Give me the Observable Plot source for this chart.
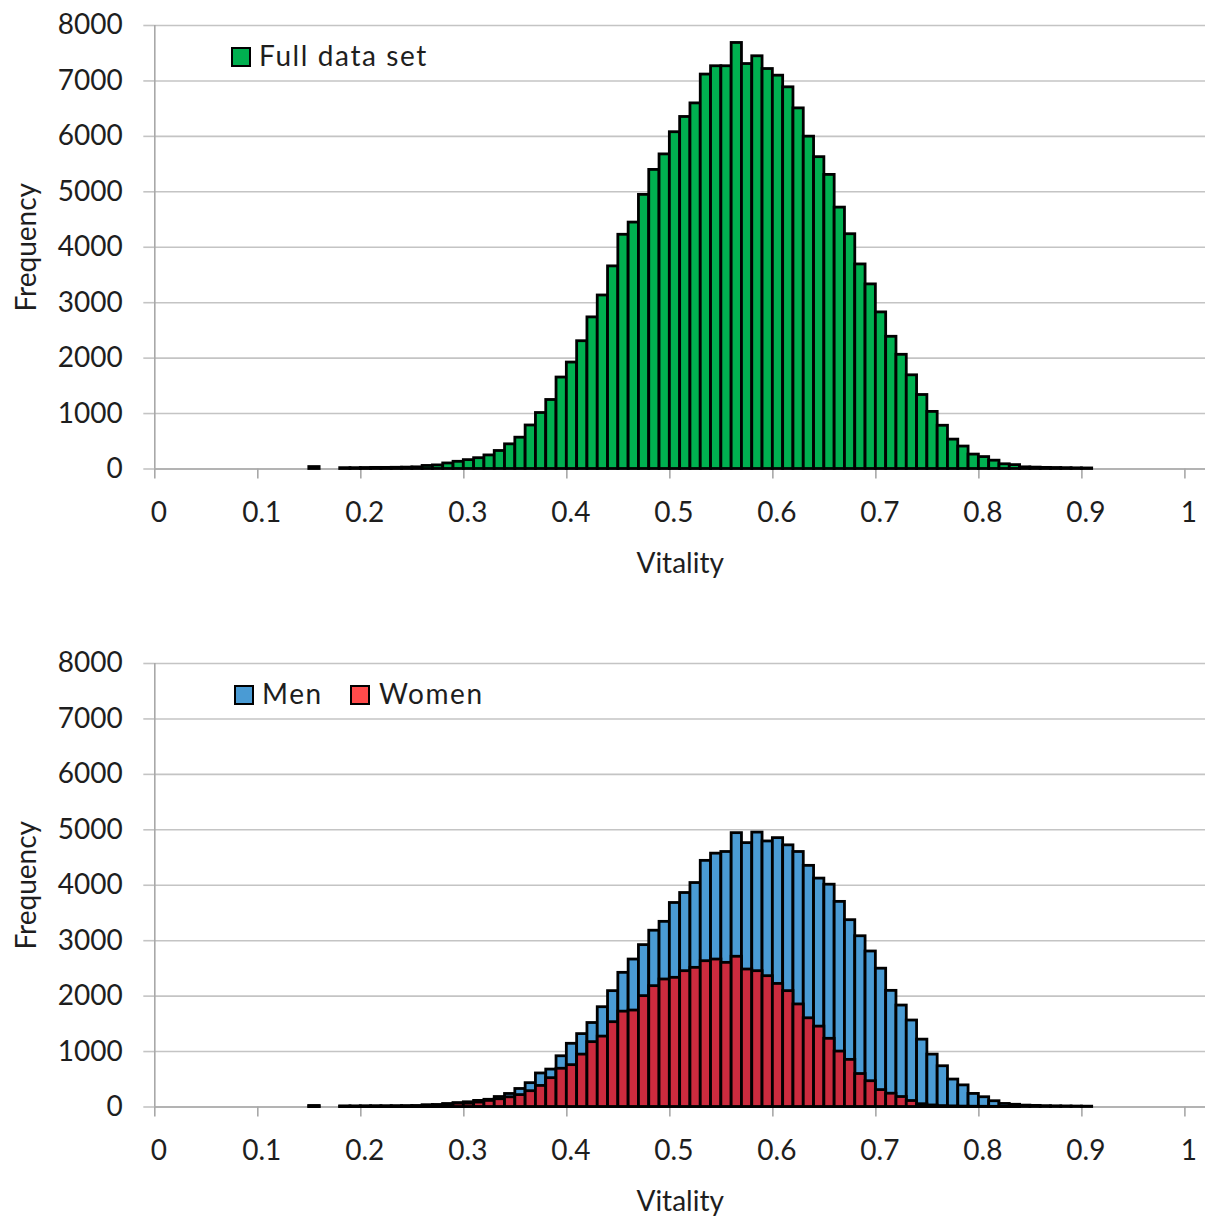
<!DOCTYPE html>
<html><head><meta charset="utf-8">
<script src="https://cdn.jsdelivr.net/npm/d3@7"></script>
<script src="https://cdn.jsdelivr.net/npm/@observablehq/plot@0.6"></script>
<style>
body{margin:0;background:#fff;}
#wrap{position:relative;width:1207px;height:1219px;font-family:Lato, sans-serif;overflow:hidden;}
.panel{position:absolute;left:0;}
.lt{position:absolute;font-size:28px;line-height:28px;color:#1e1e1e;letter-spacing:1.6px;white-space:nowrap;}
.sw{position:absolute;box-sizing:border-box;width:20px;height:20px;border:2.5px solid #000;}
</style>
</head><body>
<div id="wrap"></div>
<script>
// bin starts (Vitality), bin width 0.01
const bins = [0.15,0.16,0.17,0.18,0.19,0.20,0.21,0.22,0.23,0.24,0.25,0.26,0.27,0.28,0.29,
  0.30,0.31,0.32,0.33,0.34,0.35,0.36,0.37,0.38,0.39,0.40,0.41,0.42,0.43,0.44,0.45,0.46,0.47,0.48,0.49,
  0.50,0.51,0.52,0.53,0.54,0.55,0.56,0.57,0.58,0.59,0.60,0.61,0.62,0.63,0.64,0.65,0.66,0.67,0.68,0.69,
  0.70,0.71,0.72,0.73,0.74,0.75,0.76,0.77,0.78,0.79,0.80,0.81,0.82,0.83,0.84,0.85,0.86,0.87,0.88,0.89,0.90];
const fullData = [35,0,0,15,15,18,20,20,22,25,30,55,65,100,130,
  160,195,245,325,445,565,785,1010,1245,1650,1920,2305,2735,3130,3655,4225,4445,4945,5395,5675,
  6075,6350,6595,7115,7265,7265,7685,7305,7445,7215,7095,6885,6505,5995,5625,5305,4715,4235,3690,3330,
  2825,2385,2060,1690,1335,1030,780,530,405,260,215,150,85,70,30,25,20,18,15,12,10];
const men = [15,0,0,8,8,10,10,10,12,12,15,25,30,50,70,
  85,110,130,180,235,325,430,605,675,915,1140,1315,1515,1800,2090,2420,2660,2920,3180,3340,
  3680,3860,4040,4440,4570,4600,4940,4760,4950,4790,4850,4720,4600,4350,4120,4010,3700,3370,3080,2805,
  2495,2095,1830,1560,1215,945,735,495,390,236,176,104,55,40,25,20,15,12,10,8,6];
const women = [15,0,0,7,7,8,10,10,10,13,15,30,35,50,60,
  60,80,110,140,175,215,285,380,520,690,755,945,1170,1270,1530,1720,1740,2000,2180,2300,
  2330,2450,2510,2630,2660,2600,2710,2480,2450,2360,2220,2090,1850,1600,1450,1230,1000,850,595,465,
  305,240,180,108,50,28,16,11,7,5,4,3,2,1,0,0,0,0,0,0,0];
const xTicks = [0,0.1,0.2,0.3,0.4,0.5,0.6,0.7,0.8,0.9,1];
const yTicks = [0,1000,2000,3000,4000,5000,6000,7000,8000];
const xLabel = "Vitality";
const yLabel = "Frequency";

const rows = (vals) => bins.map((b, i) => ({bin: b, v: vals[i]})).filter(d => d.v > 0);

function panel(series, height) {
  const barMarks = series.map(s => Plot.rectY(rows(s.values), {
    x1: "bin", x2: d => d.bin + 0.01, y: "v",
    fill: s.color, stroke: "#000", strokeWidth: 2.8
  }));
  return Plot.plot({
    width: 1207, height,
    marginLeft: 154.3, marginRight: 2, marginTop: 25, marginBottom: height - 468.5,
    style: {fontFamily: "Lato, sans-serif", fontSize: "28px", color: "#1e1e1e", background: "white", overflow: "visible"},
    x: {domain: [0, 1.02]},
    y: {domain: [0, 8000]},
    marks: [
      Plot.ruleY(yTicks, {stroke: "#c4c4c4", strokeWidth: 1.6}),
      Plot.axisY({ticks: yTicks, tickSize: 11, tickPadding: 21, stroke: "#c4c4c4", strokeWidth: 1.6, tickFormat: d => String(d), label: null, letterSpacing: 1.2}),
      Plot.ruleX([0], {stroke: "#a8a8a8", strokeWidth: 1.6}),
      Plot.axisX({ticks: xTicks, tickSize: 10, stroke: "#a8a8a8", strokeWidth: 1.6, tickFormat: () => "", label: null}),
      Plot.axisX({ticks: xTicks, tickSize: 0, tickPadding: 33, dx: 4, tickFormat: d => String(d), label: null, letterSpacing: 1.2}),
      Plot.ruleY([0], {stroke: "#a8a8a8", strokeWidth: 1.6}),
      ...barMarks,
      Plot.text([xLabel], {frameAnchor: "bottom", dy: 95, lineAnchor: "middle", fontSize: 28, letterSpacing: 1.6}),
      Plot.text([yLabel], {frameAnchor: "left", dx: -128, rotate: -90, textAnchor: "middle", lineAnchor: "middle", fontSize: 28, letterSpacing: 1.6})
    ]
  });
}

const wrap = document.getElementById("wrap");
const p1 = panel([{values: fullData, color: "#00b050"}], 638);
p1.classList.add("panel"); p1.style.top = "0px";
wrap.appendChild(p1);
const p2 = panel([{values: men, color: "#4a9bd4"}, {values: women, color: "#cc2b3e"}], 581);
p2.classList.add("panel"); p2.style.top = "638px";
wrap.appendChild(p2);

function legendItem(left, top, color, label, textLeft) {
  const sw = document.createElement("div");
  sw.className = "sw"; sw.style.left = left + "px"; sw.style.top = top + "px"; sw.style.background = color;
  wrap.appendChild(sw);
  const t = document.createElement("div");
  t.className = "lt"; t.textContent = label; t.style.left = textLeft + "px"; t.style.top = (top - 6) + "px";
  wrap.appendChild(t);
}
legendItem(231, 47, "#00b050", "Full data set", 259);
legendItem(234, 685, "#4a9bd4", "Men", 262);
legendItem(350, 685, "#ff4b4b", "Women", 379);
</script>
</body></html>
